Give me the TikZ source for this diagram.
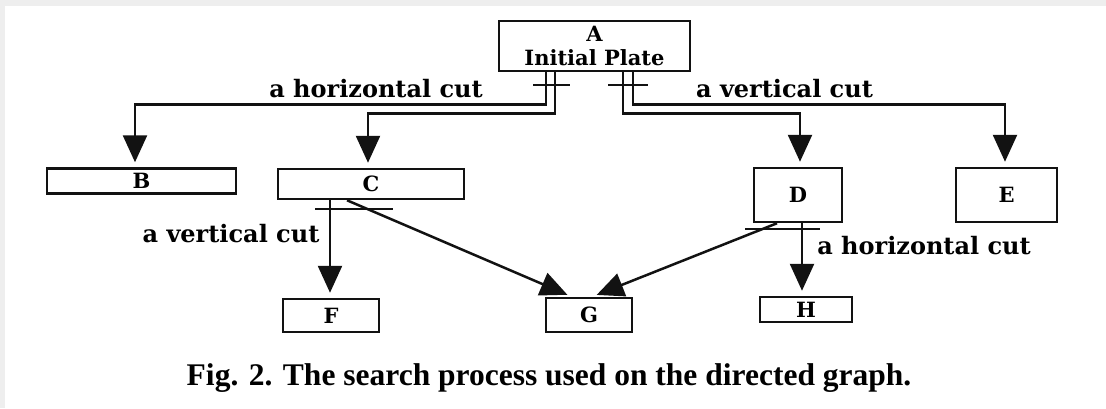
\documentclass[tikz,border=0pt]{standalone}
\usepackage{fontspec}
\setmainfont{Liberation Serif}
\newfontfamily\slabfont{DejaVu Serif}
\usepackage{tikz}
\usetikzlibrary{
  arrows.meta,
  positioning,
  calc
}
\definecolor{InkBlack}{RGB}{18,18,18}
\definecolor{ScanGray}{RGB}{238,238,238}
\tikzset{
  platenode/.style={draw=InkBlack,line width=2.5pt,inner sep=0pt,align=center,font=\slabfont\bfseries\fontsize{21}{24}\selectfont},
  cutarrow/.style={-{Triangle[length=27pt,width=24pt]},line width=2.5pt,draw=InkBlack,shorten >=5pt},
  cutmark/.style={line width=2pt,draw=InkBlack},
  cutlabel/.style={font=\slabfont\bfseries\fontsize{24}{26}\selectfont,inner sep=0pt,anchor=base}
}

\begin{document}
\begin{tikzpicture}[x=1pt,y=-1pt]
\fill[white] (0,0) rectangle (1106,408);
\useasboundingbox (0,0) rectangle (1106,408);
\fill[ScanGray] (0,0) rectangle (1106,6);
\fill[ScanGray] (0,0) rectangle (5,408);
% plates
\node[platenode,minimum width=191pt,minimum height=50pt] (A) at (594.5,46) {A\\Initial Plate};
\node[platenode,minimum width=189pt,minimum height=25pt] (B) at (141.5,181) {B};
\node[platenode,minimum width=186pt,minimum height=30pt] (C) at (371,184) {C};
\node[platenode,minimum width=88pt,minimum height=54pt] (D) at (798,195) {D};
\node[platenode,minimum width=101pt,minimum height=54pt] (E) at (1006.5,195) {E};
\node[platenode,minimum width=96pt,minimum height=33pt] (F) at (331,315.5) {F};
\node[platenode,minimum width=86pt,minimum height=34pt] (G) at (589,315) {G};
\node[platenode,minimum width=92pt,minimum height=25pt] (H) at (806,309.5) {H};
% cuts of A
\draw[cutarrow] ([xshift=-48.5pt]A.south) -- ++(0,32) -| ([xshift=-6.5pt]B.north);
\draw[cutarrow] ([xshift=-39.5pt]A.south) -- ++(0,41) -| ([xshift=-3pt]C.north);
\draw[cutarrow] ([xshift=28.5pt]A.south) -- ++(0,41) -| ([xshift=2pt]D.north);
\draw[cutarrow] ([xshift=38.5pt]A.south) -- ++(0,32) -| ([xshift=-1.5pt]E.north);
\draw[cutmark] ($(A.south)+(-61.5,13)$) -- ++(37,0);
\draw[cutmark] ($(A.south)+(13.5,13)$) -- ++(40,0);
\node[cutlabel] (hcutA) at (376,97) {a horizontal cut};
\node[cutlabel] (vcutA) at (784.5,97) {a vertical cut};
% cuts of C and D
\draw[cutarrow] ([xshift=-41pt]C.south) -- ([xshift=-1pt]F.north);
\draw[cutarrow] ([xshift=-24pt]C.south) -- ([xshift=-17pt]G.north);
\draw[cutarrow] ([xshift=-21pt]D.south) -- ([xshift=3pt]G.north);
\draw[cutarrow] ([xshift=4pt]D.south) -- ([xshift=-4pt]H.north);
\draw[cutmark] ($(C.south)+(-56,9)$) -- ++(78,0);
\draw[cutmark] ($(D.south)+(-53,6)$) -- ++(75,0);
\node[cutlabel] (vcutC) at (231,242) {a vertical cut};
\node[cutlabel] (hcutD) at (924,254) {a horizontal cut};
% caption
\node[anchor=base,inner sep=0pt,font=\bfseries\fontsize{31.5}{33}\selectfont] (caption) at (549,385) {Fig. 2. The search process used on the directed graph.};
\end{tikzpicture}
\end{document}
